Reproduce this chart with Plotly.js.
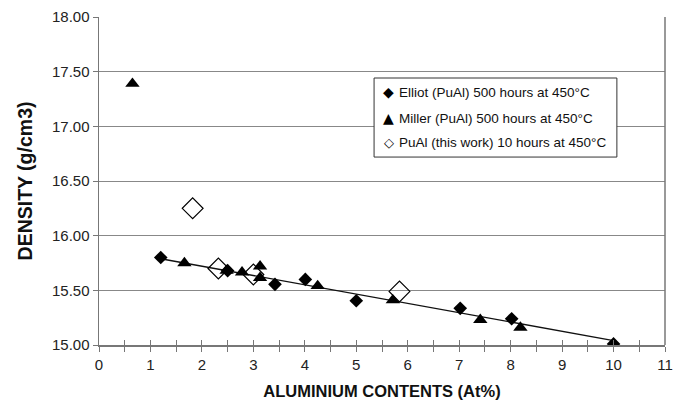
<!DOCTYPE html>
<html>
<head>
<meta charset="utf-8">
<script src="https://cdn.plot.ly/plotly-3.0.1.min.js"></script>
<style>
  html, body { margin: 0; padding: 0; background: #fff; }
  #chart { width: 691px; height: 407px; }
</style>
</head>
<body>
<div id="chart"></div>
<script>
// Density of PuAl alloys versus aluminium content
const elliotX = [1.2, 2.5, 3.42, 4.01, 5.0, 7.02, 8.02, 10.0];
const elliotY = [15.80, 15.68, 15.555, 15.60, 15.405, 15.335, 15.24, 15.01];

const millerX = [0.65, 1.66, 2.48, 2.78, 3.13, 3.13, 4.25, 5.71, 7.41, 8.19];
const millerY = [17.39, 15.75, 15.68, 15.665, 15.72, 15.615, 15.54, 15.41, 15.23, 15.16];

const thisWorkX = [1.82, 2.32, 3.0, 5.84];
const thisWorkY = [16.25, 15.70, 15.645, 15.49];

const seriesNames = [
  'Elliot (PuAl) 500 hours at 450°C',
  'Miller (PuAl) 500 hours at 450°C',
  'PuAl (this work) 10 hours at 450°C'
];
const seriesGlyphs = ['\u25C6', '\u25B2', '\u25C7'];

const xTickVals = [0, 1, 2, 3, 4, 5, 6, 7, 8, 9, 10, 11];
const yTickVals = [15.0, 15.5, 16.0, 16.5, 17.0, 17.5, 18.0];

// Least-squares linear trend through the Elliot series, over its x span
function linearFit(xs, ys) {
  const n = xs.length;
  const mx = xs.reduce((a, b) => a + b, 0) / n;
  const my = ys.reduce((a, b) => a + b, 0) / n;
  let sxy = 0, sxx = 0;
  for (let i = 0; i < n; i++) {
    sxy += (xs[i] - mx) * (ys[i] - my);
    sxx += (xs[i] - mx) * (xs[i] - mx);
  }
  const slope = sxy / sxx;
  return { slope: slope, intercept: my - slope * mx };
}
const fit = linearFit(elliotX, elliotY);
const trendX = [Math.min(...elliotX), Math.max(...elliotX)];
const trendY = trendX.map(x => fit.intercept + fit.slope * x);

const traces = [
  {
    x: trendX, y: trendY, mode: 'lines', type: 'scatter',
    line: { color: '#111', width: 1.3 }, hoverinfo: 'skip'
  },
  {
    x: elliotX, y: elliotY, mode: 'markers', type: 'scatter', name: seriesNames[0],
    marker: { symbol: 'diamond', size: 10.5, color: '#000' }
  },
  {
    x: millerX, y: millerY, mode: 'markers', type: 'scatter', name: seriesNames[1],
    marker: { symbol: 'triangle-up', size: 12.5, color: '#000' }
  },
  {
    x: thisWorkX, y: thisWorkY, mode: 'markers', type: 'scatter', name: seriesNames[2],
    marker: { symbol: 'diamond-open', size: 16, color: '#000', line: { width: 1.2 } }
  },
  // invisible trace carrying the inward half of the x tick marks
  {
    x: [0], y: [15], xaxis: 'x2', mode: 'markers',
    marker: { opacity: 0 }, hoverinfo: 'skip'
  }
];

// Boxed key in the upper right of the plot area
const keyBox = { x0: 0.486, x1: 0.915, y0: 0.573, y1: 0.814 };
const keyRowsY = [0.771, 0.692, 0.616];
const keyAnnotations = [];
seriesNames.forEach((name, i) => {
  keyAnnotations.push({
    xref: 'paper', yref: 'paper', x: 0.5115, y: keyRowsY[i],
    xanchor: 'center', yanchor: 'middle', showarrow: false,
    text: seriesGlyphs[i],
    font: { family: 'DejaVu Sans', size: i === 2 ? 13 : 14, color: '#000' }
  });
  keyAnnotations.push({
    xref: 'paper', yref: 'paper', x: 0.5265, y: keyRowsY[i],
    xanchor: 'left', yanchor: 'middle', showarrow: false,
    text: name,
    font: { size: 13.5, color: '#111' }
  });
});

const layout = {
  width: 691, height: 407,
  margin: { l: 99, r: 26, t: 17, b: 62 },
  paper_bgcolor: '#fff', plot_bgcolor: '#fff',
  font: { family: 'Liberation Sans, Arial, sans-serif', color: '#222' },
  showlegend: false,
  xaxis: {
    range: [0, 11], tickvals: xTickVals, ticktext: xTickVals.map(String),
    ticks: 'outside', ticklen: 5, tickcolor: '#777', tickwidth: 1,
    minor: { dtick: 0.5, ticks: 'outside', ticklen: 5, tickcolor: '#777', tickwidth: 1, showgrid: false },
    showgrid: false, zeroline: false,
    showline: true, linecolor: '#777', linewidth: 1.5,
    tickfont: { size: 15, color: '#222' },
    title: { text: '<b>ALUMINIUM CONTENTS (At%)</b>', font: { size: 16.5, color: '#111' }, standoff: 14 }
  },
  xaxis2: {
    overlaying: 'x', anchor: 'y', range: [0, 11], dtick: 0.5,
    ticks: 'inside', ticklen: 5, tickcolor: '#777', tickwidth: 1,
    showticklabels: false, showgrid: false, zeroline: false, showline: false
  },
  yaxis: {
    range: [15, 18], tickvals: yTickVals, ticktext: yTickVals.map(v => v.toFixed(2)),
    ticks: 'outside', ticklen: 5, tickcolor: '#777', tickwidth: 1,
    showgrid: true, gridcolor: '#888', gridwidth: 1, zeroline: false,
    showline: true, linecolor: '#777', linewidth: 1.5,
    tickfont: { size: 15, color: '#222' },
    title: { text: '<b>DENSITY (g/cm3)</b>', font: { size: 19.5, color: '#111' }, standoff: 14 }
  },
  shapes: [
    { type: 'line', xref: 'paper', yref: 'paper', x0: 1, x1: 1, y0: 0, y1: 1,
      line: { color: '#777', width: 1.5 } },
    { type: 'rect', xref: 'paper', yref: 'paper',
      x0: keyBox.x0, x1: keyBox.x1, y0: keyBox.y0, y1: keyBox.y1,
      fillcolor: '#fff', line: { color: '#333', width: 1 } }
  ],
  annotations: keyAnnotations
};

Plotly.newPlot('chart', traces, layout, { staticPlot: true, displayModeBar: false });
</script>
</body>
</html>
